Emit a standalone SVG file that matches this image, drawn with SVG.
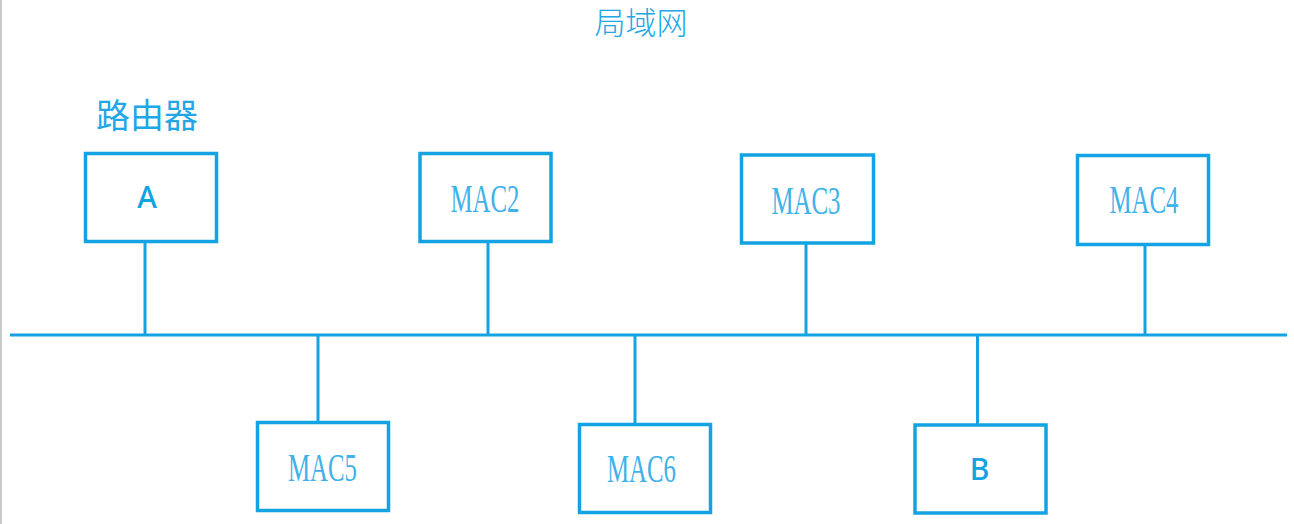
<svg xmlns="http://www.w3.org/2000/svg" width="1294" height="524" viewBox="0 0 1294 524">
<style>
.box{fill:#ffffff;stroke:#13a2e2;stroke-width:3.5}
.wire{stroke:#13a2e2;stroke-width:3;fill:none}
.mac{font-family:"Liberation Serif","Noto Serif",serif;font-size:39px;fill:#3fb2ea;text-anchor:middle}
.id{font-family:"Noto Sans","Noto Sans CJK SC",sans-serif;font-size:30px;font-weight:500;fill:#13a2e2;text-anchor:middle}
.cjk{font-family:"Noto Sans CJK SC","Noto Sans",sans-serif;fill:#22a6e6}
</style>
<rect width="1294" height="524" fill="#ffffff"/>
<line x1="1" y1="0" x2="1" y2="524" stroke="#c8c8c8" stroke-width="2"/>
<text class="cjk" x="641" y="34" font-size="31" font-weight="300" text-anchor="middle">局域网</text>
<text class="cjk" x="96" y="128" font-size="34" font-weight="400">路由器</text>
<g id="connectors">
<line class="wire" x1="10" y1="335" x2="1287" y2="335"/>
<line class="wire" x1="145" y1="242" x2="145" y2="335"/>
<line class="wire" x1="488" y1="242" x2="488" y2="335"/>
<line class="wire" x1="806" y1="244" x2="806" y2="335"/>
<line class="wire" x1="1145" y1="245" x2="1145" y2="335"/>
<line class="wire" x1="318" y1="335" x2="318" y2="423"/>
<line class="wire" x1="635" y1="335" x2="635" y2="425"/>
<line class="wire" x1="977.5" y1="335" x2="977.5" y2="425"/>
</g>
<g id="A">
<rect class="box" x="85.5" y="153.5" width="131" height="88"/>
<text class="id" x="147" y="208">A</text>
</g>
<g id="MAC2">
<rect class="box" x="420" y="153.5" width="131" height="88"/>
<text class="mac" x="485" y="212" textLength="69" lengthAdjust="spacingAndGlyphs">MAC2</text>
</g>
<g id="MAC3">
<rect class="box" x="741.5" y="155" width="132" height="88"/>
<text class="mac" x="806" y="214" textLength="69" lengthAdjust="spacingAndGlyphs">MAC3</text>
</g>
<g id="MAC4">
<rect class="box" x="1077.5" y="155.5" width="131" height="89"/>
<text class="mac" x="1144" y="213" textLength="69" lengthAdjust="spacingAndGlyphs">MAC4</text>
</g>
<g id="MAC5">
<rect class="box" x="257.5" y="422.5" width="131" height="88"/>
<text class="mac" x="322.5" y="481" textLength="69" lengthAdjust="spacingAndGlyphs">MAC5</text>
</g>
<g id="MAC6">
<rect class="box" x="579.5" y="424.5" width="131" height="88"/>
<text class="mac" x="641.5" y="482" textLength="69" lengthAdjust="spacingAndGlyphs">MAC6</text>
</g>
<g id="B">
<rect class="box" x="915" y="425" width="131" height="88"/>
<text class="id" x="979.5" y="480">B</text>
</g>
</svg>
